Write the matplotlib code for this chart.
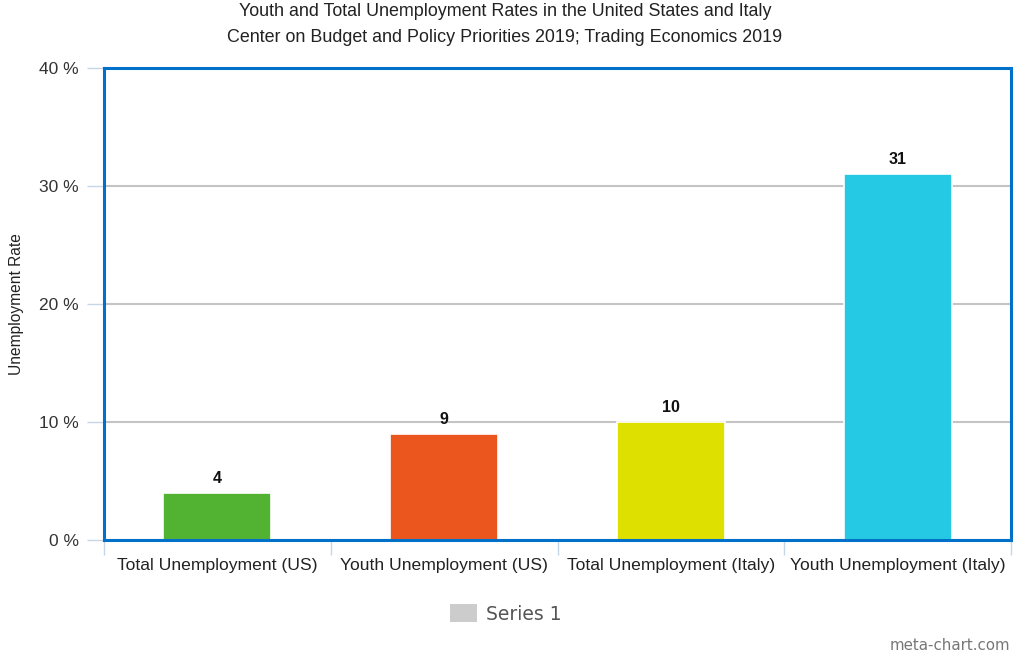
import matplotlib
matplotlib.use("Agg")
import matplotlib.pyplot as plt
from matplotlib.patches import Patch

plt.rcParams['font.family'] = ['Liberation Sans', 'DejaVu Sans']

categories = ["Total Unemployment (US)", "Youth Unemployment (US)",
              "Total Unemployment (Italy)", "Youth Unemployment (Italy)"]
values = [4, 9, 10, 31]
bar_colors = ["#52B232", "#EB561F", "#DEE000", "#26C9E3"]
y_ticks = [0, 10, 20, 30, 40]
y_tick_labels = ["0 %", "10 %", "20 %", "30 %", "40 %"]

W, H = 1013, 656
fig = plt.figure(figsize=(W / 100, H / 100), dpi=100)
ax = fig.add_axes([104 / W, (H - 540) / H, (1011 - 104) / W, (540 - 68) / H])

x = list(range(len(categories)))
ax.bar(x, values, width=0.476, color=bar_colors, edgecolor="white",
       linewidth=1.2, zorder=3)
for xi, v in zip(x, values):
    ax.annotate(str(v), (xi, v), xytext=(0, 5), textcoords="offset points",
                ha="center", va="bottom", fontsize=11.5, fontweight="bold",
                color="#111111", zorder=4)

ax.set_xlim(-0.5, len(categories) - 0.5)
ax.set_ylim(0, 40)
ax.set_yticks(y_ticks)
ax.set_yticklabels(y_tick_labels, fontsize=12.5, color="#333333")
ax.tick_params(axis="y", length=12, width=1, color="#C5D6E8", pad=6)
ax.set_xticks(x)
ax.set_xticklabels(categories, fontsize=12.6, color="#222222")
ax.tick_params(axis="x", which="major", length=0, pad=13)
ax.set_xticks([i - 0.5 for i in range(len(categories) + 1)], minor=True)
ax.tick_params(axis="x", which="minor", length=11, width=1, color="#C5D6E8")

ax.grid(axis="y", color="#C4C4C4", linewidth=1.5, zorder=1)
ax.set_axisbelow(True)
for s in ax.spines.values():
    s.set_color("#0070C8")
    s.set_linewidth(2.2)
    s.set_zorder(5)

ax.set_ylabel("Unemployment Rate", fontsize=11.2, color="#222222")
ax.yaxis.set_label_coords(-80 / (1011 - 104), 0.5)

fig.text(505 / W, 1 - 11 / H, "Youth and Total Unemployment Rates in the United States and Italy",
         ha="center", va="center", fontsize=12.9, color="#222222")
fig.text(505 / W, 1 - 37 / H, "Center on Budget and Policy Priorities 2019; Trading Economics 2019",
         ha="center", va="center", fontsize=12.9, color="#222222")

fig.legend(handles=[Patch(facecolor="#CCCCCC", edgecolor="none", label="Series 1")],
           loc="center", bbox_to_anchor=(506 / W, 1 - 614 / H), frameon=False,
           prop={"family": "DejaVu Sans", "size": 13.5}, labelcolor="#555555",
           handlelength=1.4, handleheight=1.1, handletextpad=0.5)

fig.text(1010 / W, 1 - 646 / H, "meta-chart.com", ha="right", va="center",
         fontsize=10.8, color="#777777", family="DejaVu Sans")

fig.savefig("out.png", dpi=100)
